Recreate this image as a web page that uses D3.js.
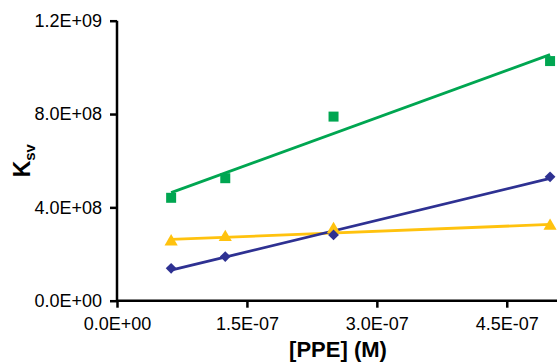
<!DOCTYPE html>
<html><head><meta charset="utf-8">
<script src="https://cdn.jsdelivr.net/npm/d3@7"></script>
<style>
body{margin:0;background:#fff;}
svg{display:block;font-family:"Liberation Sans",Arial,sans-serif;}
</style></head>
<body>
<svg id="chart" width="557" height="364"></svg>
<script>
const concentrations = [6.25e-8, 1.25e-7, 2.5e-7, 5.0e-7];
const greenValues = [4.41e8, 5.25e8, 7.89e8, 1.027e9];
const blueValues = [1.39e8, 1.89e8, 2.82e8, 5.31e8];
const yellowValues = [2.53e8, 2.72e8, 3.06e8, 3.20e8];
const xTicks = [0, 1.5e-7, 3.0e-7, 4.5e-7];
const yTicks = [0, 4e8, 8e8, 1.2e9];
const xTickLabels = ["0.0E+00", "1.5E-07", "3.0E-07", "4.5E-07"];
const yTickLabels = ["0.0E+00", "4.0E+08", "8.0E+08", "1.2E+09"];

const series = [
  {name: "green", values: greenValues, color: "#00a651", symbol: d3.symbolSquare, size: 100, rot: 0},
  {name: "yellow", values: yellowValues, color: "#ffc20e", symbol: d3.symbolTriangle, size: 75, rot: 0},
  {name: "blue", values: blueValues, color: "#2e3192", symbol: d3.symbolSquare, size: 58, rot: 45}
];

const svg = d3.select("#chart");
const x = d3.scaleLinear().domain([0, 5.08e-7]).range([117, 557]);
const y = d3.scaleLinear().domain([0, 1.2e9]).range([300.7, 20.7]);

function fit(xs, ys) {
  const mx = d3.mean(xs), my = d3.mean(ys);
  let sxy = 0, sxx = 0;
  xs.forEach((xi, i) => { sxy += (xi - mx) * (ys[i] - my); sxx += (xi - mx) ** 2; });
  const m = sxy / sxx;
  return {m, b: my - m * mx};
}

// axes
const yAxis = d3.axisLeft(y).tickValues(yTicks).tickFormat((d, i) => yTickLabels[i]).tickSize(7).tickPadding(8);
const xAxis = d3.axisBottom(x).tickValues(xTicks).tickFormat((d, i) => xTickLabels[i]).tickSize(7).tickPadding(10);

const gy = svg.append("g").attr("transform", "translate(117,0)").call(yAxis);
const gx = svg.append("g").attr("transform", "translate(0,300.7)").call(xAxis);
[gx, gy].forEach(g => {
  g.select(".domain").attr("stroke", "#000").attr("stroke-width", 2.5);
  g.selectAll(".tick line").attr("stroke", "#000").attr("stroke-width", 2.5);
  g.selectAll(".tick text").attr("fill", "#000").style("font-size", "18px").style("font-family", "'Liberation Sans',Arial,sans-serif");
});
gy.select(".domain").attr("d", `M0,${y(1.2e9)}V${y(0)}`);
gx.select(".domain").attr("d", `M${x(0)},0H557`);

// series
series.forEach(s => {
  const f = fit(concentrations, s.values);
  const x0 = concentrations[0], x1 = concentrations[concentrations.length - 1];
  svg.append("line")
    .attr("x1", x(x0)).attr("y1", y(f.m * x0 + f.b))
    .attr("x2", x(x1)).attr("y2", y(f.m * x1 + f.b))
    .attr("stroke", s.color).attr("stroke-width", 2.8);
});
series.forEach(s => {
  svg.append("g").selectAll("path").data(concentrations).join("path")
    .attr("transform", (d, i) => `translate(${x(d)},${y(s.values[i])}) rotate(${s.rot})`)
    .attr("d", d3.symbol().type(s.symbol).size(s.size))
    .attr("fill", s.color);
});

// axis titles
svg.append("text").attr("x", 338).attr("y", 357).attr("text-anchor", "middle")
  .style("font-size", "22px").style("font-weight", "bold").text("[PPE] (M)");
const yt = svg.append("text").attr("transform", "translate(30,160.7) rotate(-90)").attr("text-anchor", "middle")
  .style("font-weight", "bold");
yt.append("tspan").style("font-size", "23px").text("K");
yt.append("tspan").style("font-size", "15px").attr("dy", 5).text("sv");
</script>
</body></html>
